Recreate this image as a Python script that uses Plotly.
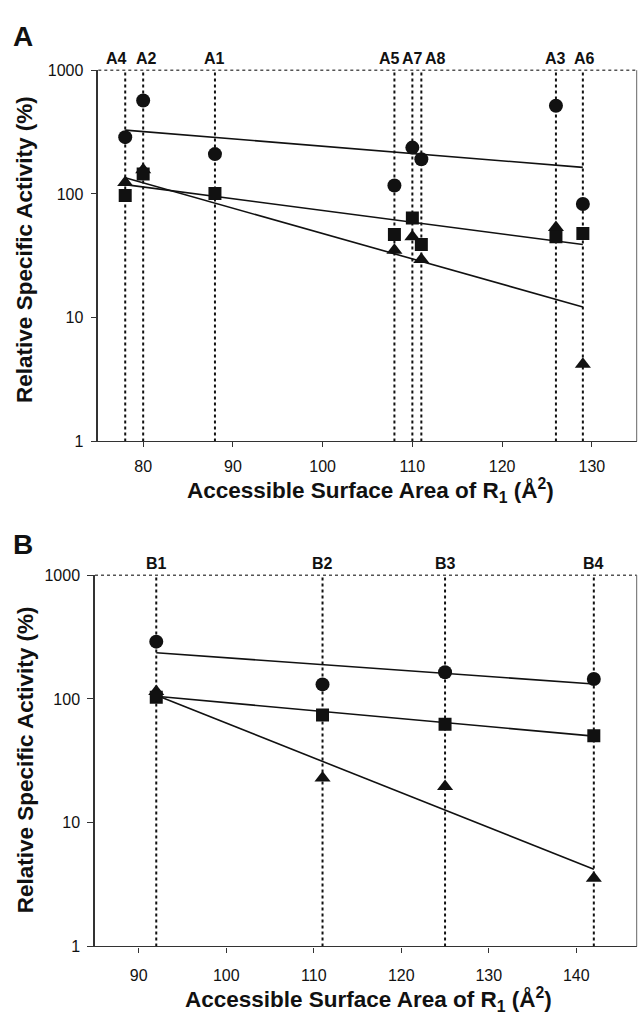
import plotly.graph_objects as go

# ---------------- data ----------------
A_labels = ["A4", "A2", "A1", "A5", "A7", "A8", "A3", "A6"]
A_x = [78, 80, 88, 108, 110, 111, 126, 129]
A_circle = [288, 569, 210, 117, 237, 191, 516, 83]
A_square = [97, 145, 101, 47, 64, 39, 45, 48]
A_triangle = [124, 157, None, 35, 45, 29.5, 53.5, 4.2]
A_fit_x = [78, 129]
A_fit_circle = [328, 164]
A_fit_square = [119, 39]
A_fit_triangle = [135, 12.2]

B_labels = ["B1", "B2", "B3", "B4"]
B_x = [92, 111, 125, 142]
B_circle = [290, 131, 164, 145]
B_square = [103, 74, 62.5, 50.5]
B_triangle = [115, 23, 19.6, 3.56]
B_fit_x = [92, 142]
B_fit_circle = [236, 132]
B_fit_square = [105, 50]
B_fit_triangle = [107, 4.2]

y_ticks = [1, 10, 100, 1000]
A_xticks = [80, 90, 100, 110, 120, 130]
B_xticks = [90, 100, 110, 120, 130, 140]

# label nudges (pixels) so crowded labels do not collide
A_label_shift = [-9, 3, 0, -5, 0, 14, 0, 2]
B_label_shift = [0, 0, 0, 0]

W, H = 638, 1024
FONT = "Liberation Sans, Arial, sans-serif"
INK = "#111111"

fig = go.Figure()

def px_x(v):
    return v / W

def px_y(v):
    return 1 - v / H

panels = [
    dict(xa="x", ya="y", x=A_x, c=A_circle, s=A_square, t=A_triangle,
         fx=A_fit_x, fc=A_fit_circle, fs=A_fit_square, ft=A_fit_triangle),
    dict(xa="x2", ya="y2", x=B_x, c=B_circle, s=B_square, t=B_triangle,
         fx=B_fit_x, fc=B_fit_circle, fs=B_fit_square, ft=B_fit_triangle),
]

for p in panels:
    for xv in p["x"]:
        fig.add_trace(go.Scatter(x=[xv, xv], y=[1, 1000], mode="lines",
                                 line=dict(color=INK, width=2, dash="dot"),
                                 xaxis=p["xa"], yaxis=p["ya"], showlegend=False, hoverinfo="skip"))
    for fy in (p["fc"], p["fs"], p["ft"]):
        fig.add_trace(go.Scatter(x=p["fx"], y=fy, mode="lines",
                                 line=dict(color=INK, width=1.6),
                                 xaxis=p["xa"], yaxis=p["ya"], showlegend=False, hoverinfo="skip"))
    fig.add_trace(go.Scatter(x=p["x"], y=p["t"], mode="markers",
                             marker=dict(symbol="triangle-up", size=14, color=INK),
                             xaxis=p["xa"], yaxis=p["ya"], showlegend=False))
    fig.add_trace(go.Scatter(x=p["x"], y=p["s"], mode="markers",
                             marker=dict(symbol="square", size=13, color=INK),
                             xaxis=p["xa"], yaxis=p["ya"], showlegend=False))
    fig.add_trace(go.Scatter(x=p["x"], y=p["c"], mode="markers",
                             marker=dict(symbol="circle", size=14, color=INK),
                             xaxis=p["xa"], yaxis=p["ya"], showlegend=False))

A_dom_x = [px_x(98.3), px_x(636.7)]
A_dom_y = [px_y(440.7), px_y(63.3)]
B_dom_x = [px_x(95), px_x(636.7)]
B_dom_y = [px_y(954.3), px_y(576.7)]

common_x = dict(showgrid=False, zeroline=False, showline=True, linecolor="#333333", linewidth=1.2,
                ticks="outside", ticklen=5, tickcolor="#333333", tickwidth=1.2,
                tickfont=dict(family=FONT, size=16, color=INK))
common_y = dict(type="log", range=[0, 3], showgrid=False, zeroline=False, showline=True,
                linecolor="#333333", linewidth=1.5, ticks="outside", ticklen=6,
                tickcolor="#333333", tickwidth=1.2, tickvals=y_ticks,
                ticktext=[str(v) for v in y_ticks],
                tickfont=dict(family=FONT, size=16, color=INK), ticklabelstandoff=4)

fig.update_layout(
    width=W, height=H,
    margin=dict(l=0, r=0, t=0, b=0),
    paper_bgcolor="white", plot_bgcolor="white",
    xaxis=dict(common_x, domain=A_dom_x, range=[75, 135], tickvals=A_xticks, anchor="y",
               ticklabelstandoff=5),
    yaxis=dict(common_y, domain=A_dom_y, anchor="x"),
    xaxis2=dict(common_x, domain=B_dom_x, range=[85, 146.9], tickvals=B_xticks, anchor="y2",
                ticklabelstandoff=9),
    yaxis2=dict(common_y, domain=B_dom_y, anchor="x2"),
)

shapes = []
for dx, dy in ((A_dom_x, A_dom_y), (B_dom_x, B_dom_y)):
    shapes.append(dict(type="line", xref="paper", yref="paper", x0=dx[0], x1=dx[1], y0=dy[1], y1=dy[1],
                       line=dict(color="#555555", width=1.5, dash="dot")))
    shapes.append(dict(type="line", xref="paper", yref="paper", x0=dx[1], x1=dx[1], y0=dy[0], y1=dy[1],
                       line=dict(color="#666666", width=1)))
fig.update_layout(shapes=shapes)

ann = []
ann.append(dict(text="<b>A</b>", x=px_x(11), y=px_y(29), xref="paper", yref="paper",
                xanchor="left", yanchor="middle", showarrow=False,
                font=dict(family=FONT, size=28, color=INK)))
ann.append(dict(text="<b>B</b>", x=px_x(11), y=px_y(546), xref="paper", yref="paper",
                xanchor="left", yanchor="middle", showarrow=False,
                font=dict(family=FONT, size=28, color=INK)))
for labels, xs, shifts, xa, dom_y in ((A_labels, A_x, A_label_shift, "x", A_dom_y),
                                      (B_labels, B_x, B_label_shift, "x2", B_dom_y)):
    for lab, xv, sh in zip(labels, xs, shifts):
        ann.append(dict(text="<b>%s</b>" % lab, x=xv, y=dom_y[1], xref=xa, yref="paper",
                        xanchor="center", yanchor="bottom", xshift=sh, yshift=1, showarrow=False,
                        font=dict(family=FONT, size=16, color=INK)))
xtitle = "<b>Accessible Surface Area of R<sub>1</sub> (Å<sup>2</sup>)</b>"
ytitle = "<b>Relative Specific Activity (%)</b>"
ann.append(dict(text=xtitle, x=px_x(370), y=px_y(491), xref="paper", yref="paper",
                xanchor="center", yanchor="middle", showarrow=False,
                font=dict(family=FONT, size=22.5, color=INK)))
ann.append(dict(text=xtitle, x=px_x(368), y=px_y(1008), xref="paper", yref="paper",
                xanchor="center", yanchor="middle", showarrow=False,
                font=dict(family=FONT, size=22.5, color=INK)))
ann.append(dict(text=ytitle, x=px_x(25), y=px_y(246), xref="paper", yref="paper",
                xanchor="center", yanchor="middle", textangle=-90, showarrow=False,
                font=dict(family=FONT, size=22.5, color=INK)))
ann.append(dict(text=ytitle, x=px_x(25), y=px_y(765), xref="paper", yref="paper",
                xanchor="center", yanchor="middle", textangle=-90, showarrow=False,
                font=dict(family=FONT, size=22.5, color=INK)))
fig.update_layout(annotations=ann)

fig.write_html("out.html", config={"displayModeBar": False},
               post_script="document.body.style.margin='0px';document.body.style.overflow='hidden';")
